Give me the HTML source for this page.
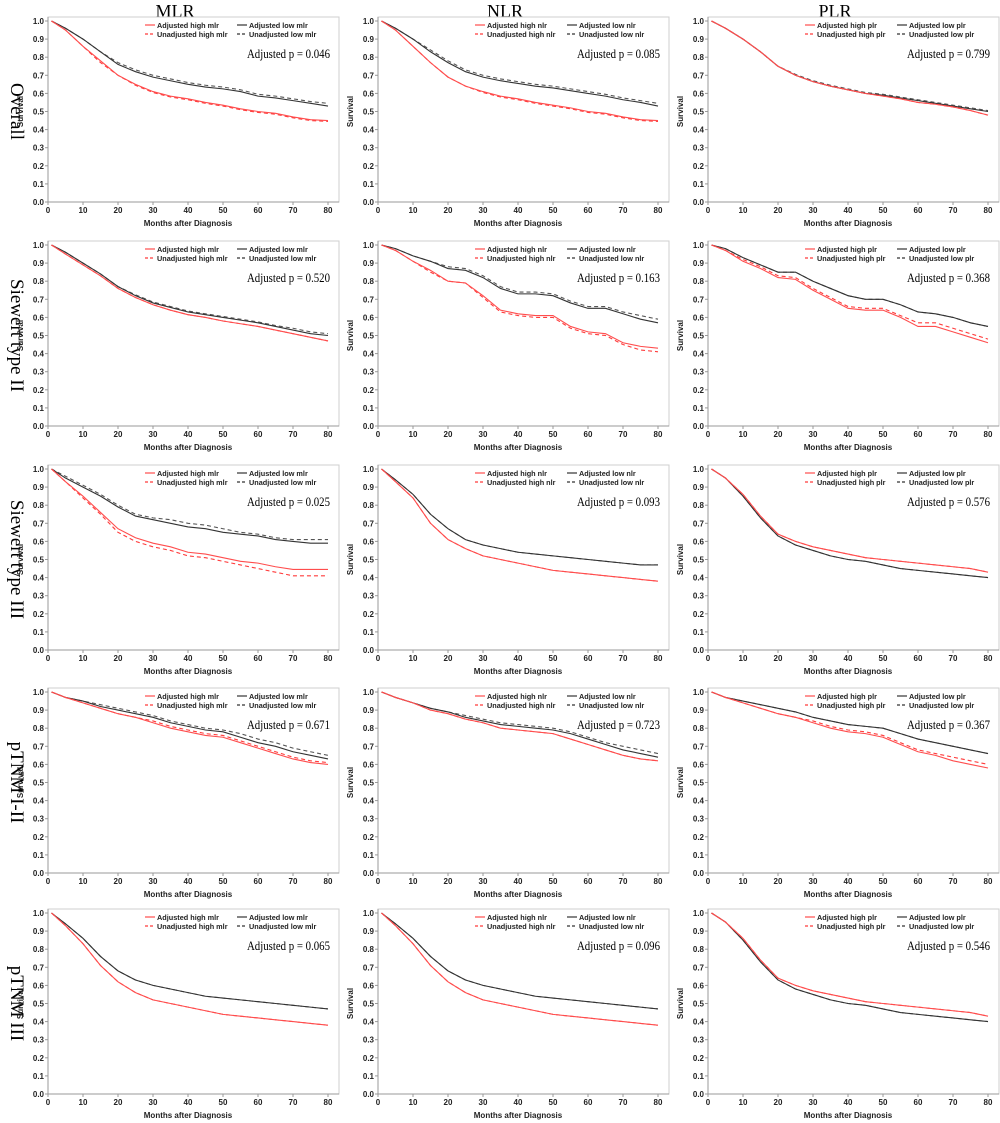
<!DOCTYPE html>
<html><head><meta charset="utf-8">
<style>
html,body{margin:0;padding:0;background:#fff;}
svg{display:block;}
.tk{font:bold 8px "Liberation Sans",sans-serif;fill:#222;}
.lg{font:bold 7.3px "Liberation Sans",sans-serif;fill:#222;}
.pv{font:13px "Liberation Serif",serif;fill:#000;}
.ct{font:18px "Liberation Serif",serif;fill:#000;}
.rt{font:19px "Liberation Serif",serif;fill:#000;}
</style></head>
<body>
<svg id="chart" width="1000" height="1123" viewBox="0 0 1000 1123"></svg>
<script>
// ---- data ----
const months = [0,5,10,15,20,25,30,35,40,45,50,55,60,65,70,75,80];
const yTicks = [0,0.1,0.2,0.3,0.4,0.5,0.6,0.7,0.8,0.9,1.0];
const xTicks = [0,10,20,30,40,50,60,70,80];
const colTitles = ["MLR","NLR","PLR"];
const markers = ["mlr","nlr","plr"];
const rowTitles = ["Overall","Siewert type II","Siewert type III","pTNM I-II","pTNM III"];
const pValues = [
 ["0.046","0.085","0.799"],
 ["0.520","0.163","0.368"],
 ["0.025","0.093","0.576"],
 ["0.671","0.723","0.367"],
 ["0.065","0.096","0.546"]
];
const adjHigh = [
 [1,.95,.86,.78,.70,.65,.61,.585,.57,.55,.535,.515,.50,.49,.47,.455,.45],
 [1,.95,.86,.77,.69,.64,.61,.585,.57,.55,.535,.52,.50,.49,.47,.455,.45],
 [1,.96,.90,.83,.75,.70,.665,.64,.62,.60,.585,.57,.55,.54,.525,.505,.48],
 [1,.95,.89,.83,.76,.71,.67,.64,.615,.60,.58,.565,.55,.53,.51,.49,.47],
 [1,.97,.91,.86,.80,.79,.72,.64,.62,.61,.61,.55,.52,.51,.46,.44,.43],
 [1,.97,.91,.87,.82,.81,.75,.70,.65,.64,.64,.60,.55,.55,.52,.49,.46],
 [1,.93,.85,.76,.67,.62,.59,.57,.54,.53,.51,.49,.48,.46,.445,.445,.445],
 [1,.93,.84,.70,.61,.56,.52,.50,.48,.46,.44,.43,.42,.41,.40,.39,.38],
 [1,.95,.86,.74,.64,.60,.57,.55,.53,.51,.50,.49,.48,.47,.46,.45,.43],
 [1,.97,.94,.91,.88,.86,.83,.80,.78,.76,.75,.72,.69,.66,.63,.61,.60],
 [1,.97,.94,.90,.88,.85,.83,.80,.79,.78,.77,.74,.71,.68,.65,.63,.62],
 [1,.97,.94,.91,.88,.86,.83,.80,.78,.77,.75,.71,.67,.65,.62,.60,.58],
 [1,.93,.83,.71,.62,.56,.52,.50,.48,.46,.44,.43,.42,.41,.40,.39,.38],
 [1,.93,.83,.71,.62,.56,.52,.50,.48,.46,.44,.43,.42,.41,.40,.39,.38],
 [1,.95,.86,.74,.64,.60,.57,.55,.53,.51,.50,.49,.48,.47,.46,.45,.43]
];
const unadjHigh = [
 [1,.95,.86,.77,.70,.645,.605,.58,.565,.545,.53,.51,.495,.485,.465,.45,.445],
 [1,.95,.86,.77,.69,.64,.605,.58,.565,.545,.53,.515,.495,.485,.465,.45,.445],
 [1,.96,.90,.83,.75,.70,.665,.64,.62,.60,.585,.57,.55,.54,.525,.505,.48],
 [1,.95,.89,.83,.76,.71,.67,.64,.615,.60,.58,.565,.55,.53,.51,.49,.47],
 [1,.97,.91,.85,.80,.79,.71,.63,.61,.60,.60,.54,.51,.50,.45,.42,.41],
 [1,.97,.92,.88,.83,.82,.76,.71,.66,.65,.65,.61,.57,.57,.54,.51,.48],
 [1,.93,.84,.75,.65,.60,.57,.55,.52,.51,.49,.47,.45,.43,.41,.41,.41],
 [1,.93,.84,.70,.61,.56,.52,.50,.48,.46,.44,.43,.42,.41,.40,.39,.38],
 [1,.95,.86,.74,.64,.60,.57,.55,.53,.51,.50,.49,.48,.47,.46,.45,.43],
 [1,.97,.94,.91,.88,.86,.84,.81,.79,.77,.76,.73,.70,.67,.64,.62,.61],
 [1,.97,.94,.90,.88,.85,.83,.80,.79,.78,.77,.74,.71,.68,.65,.63,.62],
 [1,.97,.94,.91,.88,.86,.84,.81,.79,.78,.76,.72,.68,.66,.64,.62,.60],
 [1,.93,.83,.71,.62,.56,.52,.50,.48,.46,.44,.43,.42,.41,.40,.39,.38],
 [1,.93,.83,.71,.62,.56,.52,.50,.48,.46,.44,.43,.42,.41,.40,.39,.38],
 [1,.95,.86,.74,.64,.60,.57,.55,.53,.51,.50,.49,.48,.47,.46,.45,.43]
];
const adjLow = [
 [1,.96,.90,.83,.76,.72,.69,.67,.65,.635,.625,.61,.585,.575,.56,.545,.53],
 [1,.96,.90,.83,.77,.72,.69,.67,.655,.64,.63,.615,.60,.585,.565,.55,.53],
 [1,.96,.90,.83,.75,.70,.665,.64,.62,.60,.59,.575,.56,.545,.53,.515,.50],
 [1,.96,.90,.84,.77,.72,.68,.655,.63,.615,.60,.585,.57,.55,.53,.51,.50],
 [1,.98,.94,.91,.87,.86,.82,.76,.73,.73,.72,.68,.65,.65,.62,.59,.57],
 [1,.98,.93,.89,.85,.85,.80,.76,.72,.70,.70,.67,.63,.62,.60,.57,.55],
 [1,.95,.90,.85,.79,.74,.72,.70,.68,.67,.65,.64,.63,.61,.60,.59,.59],
 [1,.94,.86,.75,.67,.61,.58,.56,.54,.53,.52,.51,.50,.49,.48,.47,.47],
 [1,.95,.85,.73,.63,.58,.55,.52,.50,.49,.47,.45,.44,.43,.42,.41,.40],
 [1,.97,.95,.92,.90,.88,.86,.83,.81,.79,.78,.75,.72,.70,.67,.65,.63],
 [1,.97,.94,.91,.89,.86,.84,.82,.81,.80,.79,.77,.74,.71,.68,.66,.64],
 [1,.97,.95,.93,.91,.89,.86,.84,.82,.81,.80,.77,.74,.72,.70,.68,.66],
 [1,.94,.86,.76,.68,.63,.60,.58,.56,.54,.53,.52,.51,.50,.49,.48,.47],
 [1,.94,.86,.76,.68,.63,.60,.58,.56,.54,.53,.52,.51,.50,.49,.48,.47],
 [1,.95,.85,.73,.63,.58,.55,.52,.50,.49,.47,.45,.44,.43,.42,.41,.40]
];
const unadjLow = [
 [1,.96,.90,.83,.77,.73,.70,.68,.66,.645,.635,.62,.595,.585,.57,.555,.545],
 [1,.96,.90,.84,.78,.73,.70,.68,.665,.65,.64,.625,.61,.595,.575,.56,.545],
 [1,.96,.90,.83,.75,.705,.67,.645,.625,.605,.595,.58,.565,.55,.535,.52,.505],
 [1,.96,.90,.84,.77,.725,.685,.66,.635,.62,.605,.59,.575,.555,.54,.52,.51],
 [1,.98,.94,.91,.88,.87,.83,.77,.74,.74,.73,.69,.66,.66,.63,.61,.59],
 [1,.98,.93,.89,.85,.85,.80,.76,.72,.70,.70,.67,.63,.62,.60,.57,.55],
 [1,.96,.91,.86,.80,.75,.73,.72,.70,.69,.67,.65,.64,.62,.61,.61,.61],
 [1,.94,.86,.75,.67,.61,.58,.56,.54,.53,.52,.51,.50,.49,.48,.47,.47],
 [1,.95,.85,.73,.63,.58,.55,.52,.50,.49,.47,.45,.44,.43,.42,.41,.40],
 [1,.97,.95,.93,.91,.89,.87,.84,.82,.80,.79,.77,.74,.72,.69,.67,.65],
 [1,.97,.94,.91,.89,.87,.85,.83,.82,.81,.80,.78,.75,.72,.70,.68,.66],
 [1,.97,.95,.93,.91,.89,.86,.84,.82,.81,.80,.77,.74,.72,.70,.68,.66],
 [1,.94,.86,.76,.68,.63,.60,.58,.56,.54,.53,.52,.51,.50,.49,.48,.47],
 [1,.94,.86,.76,.68,.63,.60,.58,.56,.54,.53,.52,.51,.50,.49,.48,.47],
 [1,.95,.85,.73,.63,.58,.55,.52,.50,.49,.47,.45,.44,.43,.42,.41,.40]
];

// ---- layout ----
const NS = "http://www.w3.org/2000/svg";
const svg = document.getElementById("chart");
const colX0 = [48,378,708], colW = 280;
const rowY1 = [21,245,469,692,913], rowH = 181;

function mk(tag, attrs, parent, text){
  const e = document.createElementNS(NS, tag);
  for (const k in attrs) e.setAttribute(k, attrs[k]);
  if (text !== undefined) e.textContent = text;
  (parent||svg).appendChild(e);
  return e;
}

colTitles.forEach((t,c)=>{
  const e = mk("text",{x:colX0[c]+127,y:17,"text-anchor":"middle",class:"ct"},svg,t);
  
  
});
rowTitles.forEach((t,r)=>{
  const cy = rowY1[r]+rowH/2;
  const e = mk("text",{x:0,y:0,"text-anchor":"middle",class:"rt",transform:`translate(11,${cy}) rotate(90)`},svg,t);
  
  
});

for (let r=0;r<5;r++) for (let c=0;c<3;c++){
  const idx = r*3+c;
  const x0 = colX0[c], y1 = rowY1[r], y0 = y1+rowH;
  const sx = m => x0 + m/80*colW;
  const sy = v => y0 - v*rowH;
  const g = mk("g",{});
  
  
  mk("rect",{x:x0,y:y1-4,width:colW+11,height:rowH+4,fill:"none",stroke:"#cfcfcf","stroke-width":1},g);
  mk("line",{x1:x0,y1:y1-4,x2:x0,y2:y0,stroke:"#999","stroke-width":1},g);
  mk("line",{x1:x0,y1:y0,x2:x0+colW+11,y2:y0,stroke:"#999","stroke-width":1},g);
  yTicks.forEach(v=>{
    mk("line",{x1:x0-3,y1:sy(v),x2:x0,y2:sy(v),stroke:"#999"},g);
    mk("text",{x:x0-4,y:sy(v)+3,"text-anchor":"end",class:"tk"},g,v.toFixed(1));
  });
  xTicks.forEach(v=>{
    mk("line",{x1:sx(v),y1:y0,x2:sx(v),y2:y0+3,stroke:"#999"},g);
    mk("text",{x:sx(v),y:y0+11,"text-anchor":"middle",class:"tk"},g,String(v));
  });
  const xl = mk("text",{x:x0+colW/2,y:y0+24,"text-anchor":"middle",class:"tk"},g,"Months after Diagnosis");
  
  
  const yl = mk("text",{x:0,y:0,"text-anchor":"middle",class:"tk",transform:`translate(${x0-25},${y1+rowH/2}) rotate(-90)`},g,"Survival");
  
  
  const series = [
    [unadjLow[idx],"#555","4,3","unadjusted-low"],
    [adjLow[idx],"#333","","adjusted-low"],
    [unadjHigh[idx],"#ff3b3b","4,3","unadjusted-high"],
    [adjHigh[idx],"#ff4d4d","","adjusted-high"]
  ];
  series.forEach(([vals,col,dash,nm])=>{
    let d = "";
    vals.forEach((v,i)=>{
      if (i===0) d += `M${sx(months[i]+1)},${sy(v)}`;
      else d += `L${sx(months[i])},${sy(v)}`;
    });
    const p = mk("path",{d:d,fill:"none",stroke:col,"stroke-width":1.1,"stroke-dasharray":dash},g);
    
    
  });
  const mkName = markers[c];
  const lg = mk("g",{},g);
  
  
  const L = [
    [x0+97,y1+7,"#ff4d4d","","Adjusted high "+mkName],
    [x0+97,y1+16,"#ff3b3b","3,2","Unadjusted high "+mkName],
    [x0+189,y1+7,"#333","","Adjusted low "+mkName],
    [x0+189,y1+16,"#333","3,2","Unadjusted low "+mkName]
  ];
  L.forEach(([lx,ly,col,dash,t])=>{
    mk("line",{x1:lx,y1:ly-3,x2:lx+10,y2:ly-3,stroke:col,"stroke-width":1.2,"stroke-dasharray":dash},lg);
    mk("text",{x:lx+12,y:ly,class:"lg"},lg,t);
  });
  const pt = mk("text",{x:x0+199,y:y1+37,class:"pv",textLength:"83",lengthAdjust:"spacingAndGlyphs"},g,"Adjusted p = "+pValues[r][c]);
  
  
}
</script>
</body></html>
